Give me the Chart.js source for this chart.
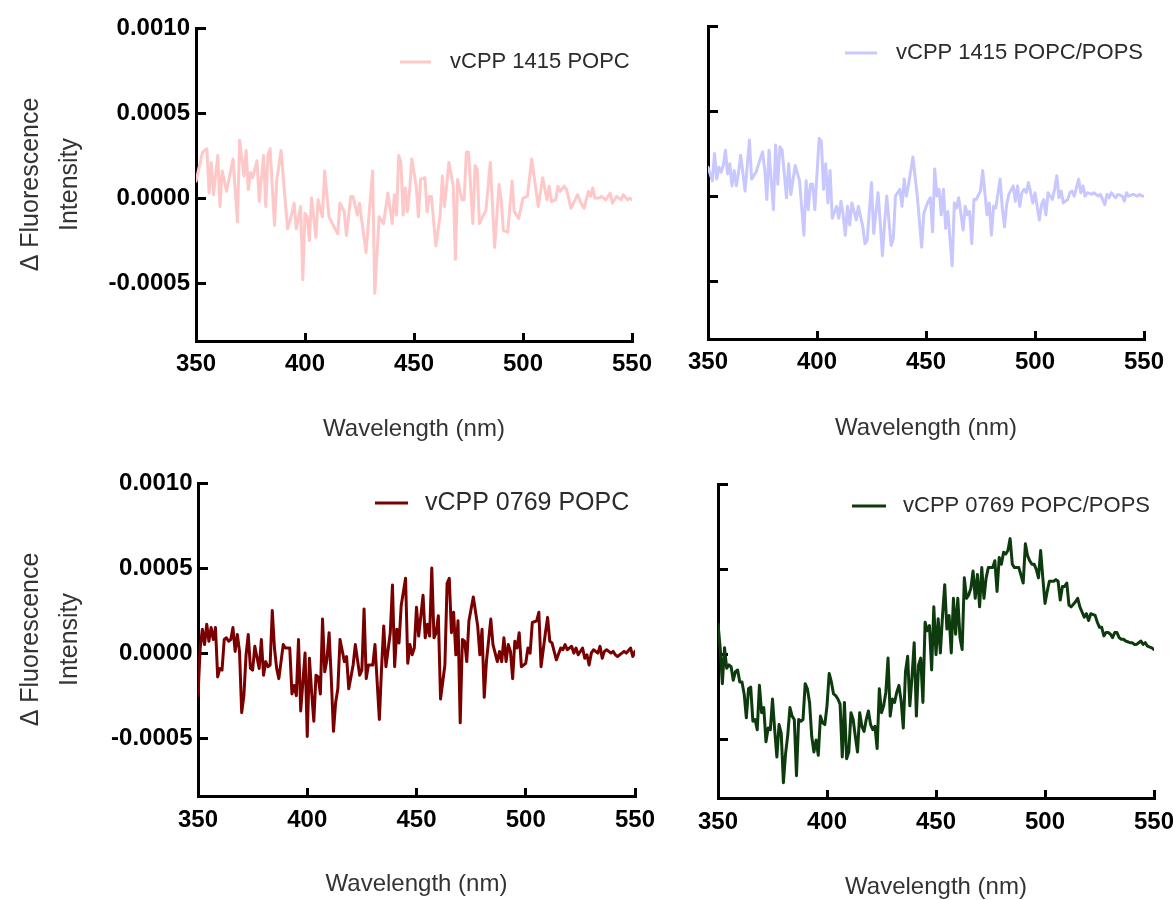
<!DOCTYPE html>
<html><head><meta charset="utf-8">
<script src="https://cdn.jsdelivr.net/npm/chart.js@4.4.0/dist/chart.umd.min.js"></script>
<style>
html,body{margin:0;padding:0;background:#fff;}
#wrap{position:relative;width:1173px;height:900px;overflow:hidden;background:#fff;}
canvas{position:absolute;left:0;top:0;}
</style></head>
<body><div id="wrap">
<canvas id="cA" width="1173" height="900"></canvas>
<canvas id="cB" width="1173" height="900"></canvas>
<canvas id="cC" width="1173" height="900"></canvas>
<canvas id="cD" width="1173" height="900"></canvas>
</div>
<script>
// ---------- data ----------
const X_TICKS = [350, 400, 450, 500, 550];
const Y_TICKS = [-0.0005, 0, 0.0005, 0.001];
const X_TITLE = 'Wavelength (nm)';
const Y_TITLE = ['\u0394 Fluorescence', 'Intensity'];
const LABEL_A = 'vCPP 1415 POPC';
const LABEL_B = 'vCPP 1415 POPC/POPS';
const LABEL_C = 'vCPP 0769 POPC';
const LABEL_D = 'vCPP 0769 POPC/POPS';

// [wavelength nm, delta fluorescence]
const seriesA = [[350,1.0e-4],[353,2.7e-4],[355,2.9e-4],[356,0.3e-4],[357,2.1e-4],[358,0.2e-4],[360,2.5e-4],[361,-0.5e-4],[362,1.6e-4],[364,0.4e-4],[367,2.3e-4],[369,-1.4e-4],[370,3.4e-4],[372,1.3e-4],[373,2.8e-4],[374,0.5e-4],[375,1.5e-4],[376,1.2e-4],[378,2.2e-4],[379,-0.2e-4],[381,2.5e-4],[382,-0.5e-4],[383,2.5e-4],[384,2.9e-4],[386,-1.6e-4],[387,1.0e-4],[389,2.8e-4],[392,-1.8e-4],[394,-0.9e-4],[395,-0.3e-4],[396,-1.8e-4],[398,-0.5e-4],[399,-4.8e-4],[400,-0.9e-4],[401,-1.1e-4],[402,-2.5e-4],[403,0],[405,-2.3e-4],[406,-0.1e-4],[408,-1.1e-4],[409,1.6e-4],[411,-1.1e-4],[415,-2.1e-4],[416,-0.3e-4],[418,-0.8e-4],[419,-2.2e-4],[421,0.1e-4],[422,0.1e-4],[424,-1.0e-4],[425,-0.3e-4],[428,-3.2e-4],[431,1.6e-4],[432,-5.6e-4],[434,-1.1e-4],[436,-1.5e-4],[438,0.3e-4],[440,-1.5e-4],[441,0.2e-4],[442,-1.0e-4],[443,2.5e-4],[444,2.1e-4],[445,-1.0e-4],[446,0.6e-4],[447,-0.8e-4],[448,0.5e-4],[449,2.3e-4],[451,0.7e-4],[452,-1.1e-4],[453,1.1e-4],[455,1.2e-4],[456,-0.8e-4],[457,0.1e-4],[458,0.1e-4],[460,-2.8e-4],[462,-1.0e-4],[463,1.3e-4],[464,-0.5e-4],[466,2.1e-4],[468,0.7e-4],[469,-3.6e-4],[470,1.1e-4],[472,-0.1e-4],[473,-0.1e-4],[474,2.7e-4],[475,2.7e-4],[477,-1.5e-4],[478,1.9e-4],[479,1.7e-4],[480,-1.5e-4],[483,-0.7e-4],[485,2.1e-4],[487,-2.9e-4],[489,0.8e-4],[490,-0.1e-4],[491,-1.9e-4],[493,-2.0e-4],[495,1.0e-4],[496,-0.8e-4],[498,-1.2e-4],[500,0],[502,0.1e-4],[504,2.3e-4],[507,-0.5e-4],[509,1.2e-4],[511,-0.1e-4],[512,0.7e-4],[513,-0.2e-4],[515,-0.1e-4],[516,0.7e-4],[517,0.4e-4],[519,0.7e-4],[520,0.5e-4],[522,-0.6e-4],[525,0.2e-4],[527,-0.4e-4],[528,-0.6e-4],[530,0.4e-4],[531,0.1e-4],[532,0.6e-4],[533,0],[535,0],[536,0.1e-4],[538,-0.1e-4],[540,0.3e-4],[541,-0.3e-4],[543,0.1e-4],[545,-0.1e-4],[546,0.2e-4],[548,-0.1e-4],[549,0],[550,-0.1e-4]];

const seriesB = [[350,1.7e-4],[352,0.9e-4],[353,2.5e-4],[354,1.0e-4],[355,1.7e-4],[356,1.4e-4],[357,1.8e-4],[358,2.7e-4],[359,1.3e-4],[360,1.9e-4],[361,0.6e-4],[362,1.5e-4],[363,0.6e-4],[364,1.4e-4],[365,2.4e-4],[367,0.3e-4],[369,3.3e-4],[370,1.0e-4],[372,1.4e-4],[375,2.6e-4],[376,1.6e-4],[377,-0.2e-4],[378,2.7e-4],[380,-0.8e-4],[381,3.0e-4],[382,0.7e-4],[383,2.9e-4],[384,2.7e-4],[386,-0.1e-4],[387,1.9e-4],[388,0.1e-4],[390,1.8e-4],[392,0.9e-4],[394,-2.3e-4],[395,0.9e-4],[396,-0.8e-4],[397,0.7e-4],[398,0.7e-4],[399,-0.8e-4],[401,3.4e-4],[402,3.2e-4],[403,0.4e-4],[404,1.9e-4],[405,-0.4e-4],[406,1.5e-4],[407,-1.3e-4],[409,-0.6e-4],[410,-1.3e-4],[411,-0.3e-4],[412,-1.1e-4],[413,-2.3e-4],[414,-0.6e-4],[415,-1.7e-4],[416,-0.4e-4],[418,-1.4e-4],[419,-0.6e-4],[421,-1.8e-4],[422,-2.8e-4],[423,-2.6e-4],[425,0.8e-4],[426,-2.2e-4],[428,0.2e-4],[429,-1.5e-4],[430,-3.5e-4],[431,-1.6e-4],[432,0],[434,-2.9e-4],[435,-2.5e-4],[436,0],[438,0.4e-4],[439,-0.6e-4],[440,1.0e-4],[441,0],[442,0.7e-4],[444,2.3e-4],[446,0],[448,-3.0e-4],[449,-1.0e-4],[451,-0.3e-4],[452,-0.1e-4],[453,-2.1e-4],[454,1.6e-4],[455,0],[456,0.4e-4],[457,-1.1e-4],[458,0.4e-4],[459,-1.9e-4],[460,-0.9e-4],[462,-4.1e-4],[463,-0.4e-4],[464,-0.7e-4],[465,-0.1e-4],[467,-2.0e-4],[468,-0.6e-4],[469,-1.1e-4],[470,-0.9e-4],[471,-2.8e-4],[472,-0.2e-4],[473,-0.2e-4],[475,0.3e-4],[476,1.5e-4],[478,-1.1e-4],[479,-0.4e-4],[480,-2.3e-4],[481,-0.6e-4],[482,-0.7e-4],[484,1.0e-4],[485,-0.7e-4],[486,-1.8e-4],[487,-0.5e-4],[488,0.1e-4],[490,0.6e-4],[491,-0.3e-4],[492,0.6e-4],[493,-0.6e-4],[494,0.2e-4],[495,0.4e-4],[496,0.2e-4],[497,0.8e-4],[499,-0.4e-4],[500,0.2e-4],[502,-1.4e-4],[503,-0.5e-4],[504,-0.2e-4],[505,-1.1e-4],[506,0.2e-4],[508,-0.2e-4],[509,0.4e-4],[510,1.2e-4],[511,-0.1e-4],[512,0.3e-4],[513,-0.4e-4],[515,-0.2e-4],[516,0.2e-4],[517,0.3e-4],[518,0],[520,1.0e-4],[521,0.2e-4],[522,0.6e-4],[523,0],[524,0.2e-4],[526,0.1e-4],[527,0.2e-4],[529,0],[530,0.1e-4],[532,-0.5e-4],[533,0.1e-4],[534,-0.1e-4],[535,0.2e-4],[537,-0.1e-4],[538,0.1e-4],[540,0],[541,-0.3e-4],[542,0.2e-4],[543,0],[545,0.1e-4],[547,0],[548,0.1e-4],[549,0],[550,0]];

const seriesC = [[350,-2.5e-4],[351,0.3e-4],[352,1.4e-4],[353,0.5e-4],[354,1.7e-4],[355,0.7e-4],[356,1.5e-4],[357,0.8e-4],[358,1.5e-4],[359,-1.4e-4],[360,-0.9e-4],[361,-1.0e-4],[362,0.8e-4],[363,0.9e-4],[364,0.7e-4],[365,0.8e-4],[366,1.5e-4],[367,0.1e-4],[368,1.1e-4],[369,0.1e-4],[370,-3.5e-4],[371,-2.5e-4],[372,-0.1e-4],[373,1.1e-4],[374,-0.9e-4],[375,-1.0e-4],[376,0.4e-4],[378,-0.9e-4],[379,0.8e-4],[380,-1.3e-4],[381,-0.5e-4],[382,-0.8e-4],[383,-0.7e-4],[384,2.5e-4],[385,0.3e-4],[386,-0.9e-4],[387,-1.5e-4],[389,0.5e-4],[390,0.3e-4],[392,0.3e-4],[393,-2.4e-4],[394,-1.9e-4],[395,-2.5e-4],[396,0.8e-4],[397,-3.4e-4],[398,-1.7e-4],[399,0],[400,-4.9e-4],[401,-0.3e-4],[402,-2.3e-4],[403,-4.0e-4],[404,-1.3e-4],[405,-1.4e-4],[406,-2.4e-4],[407,2.0e-4],[408,-1.1e-4],[409,-0.4e-4],[410,1.2e-4],[411,-1.5e-4],[412,-4.6e-4],[413,-2.9e-4],[414,-2.1e-4],[415,0.8e-4],[417,-0.5e-4],[418,-0.2e-4],[419,-2.1e-4],[421,-0.7e-4],[422,0.5e-4],[424,-1.3e-4],[425,-1.0e-4],[426,2.6e-4],[427,-1.5e-4],[428,-0.7e-4],[430,-0.7e-4],[431,0.5e-4],[433,-3.9e-4],[434,-0.9e-4],[435,1.6e-4],[436,-0.8e-4],[438,1.2e-4],[439,4.0e-4],[440,-0.8e-4],[441,1.4e-4],[442,0.6e-4],[443,2.8e-4],[445,4.4e-4],[446,-0.6e-4],[447,0.5e-4],[448,-0.1e-4],[449,0.3e-4],[450,2.7e-4],[451,1.0e-4],[453,3.4e-4],[454,0.9e-4],[455,1.7e-4],[456,1.0e-4],[457,5.0e-4],[458,0.9e-4],[459,1.2e-4],[460,2.2e-4],[461,-2.7e-4],[463,-0.7e-4],[464,4.1e-4],[465,4.4e-4],[466,1.2e-4],[467,2.4e-4],[468,-0.1e-4],[469,1.9e-4],[470,-4.1e-4],[471,0.8e-4],[472,0.7e-4],[473,-0.5e-4],[474,1.9e-4],[476,3.3e-4],[478,1.6e-4],[479,-0.1e-4],[480,1.4e-4],[481,-2.6e-4],[482,-0.5e-4],[484,2.0e-4],[485,0.5e-4],[487,-0.5e-4],[488,0.1e-4],[489,-0.5e-4],[490,0.9e-4],[491,-0.5e-4],[492,0.5e-4],[493,0.1e-4],[494,-1.5e-4],[495,0.7e-4],[496,0.3e-4],[497,1.2e-4],[498,-0.8e-4],[500,-0.6e-4],[501,0.3e-4],[502,0],[503,1.8e-4],[505,1.9e-4],[506,2.4e-4],[507,-0.8e-4],[509,1.2e-4],[510,2.1e-4],[511,0.7e-4],[512,0.6e-4],[514,-0.4e-4],[516,0.3e-4],[517,0.2e-4],[518,0.5e-4],[519,0.2e-4],[521,0.4e-4],[522,0],[523,0.3e-4],[524,-0.1e-4],[526,0.3e-4],[527,-0.3e-4],[528,-0.1e-4],[529,-0.7e-4],[530,0],[531,0.2e-4],[533,0],[534,0.4e-4],[535,-0.3e-4],[536,0.1e-4],[537,0.2e-4],[539,0],[540,0.1e-4],[541,-0.1e-4],[542,-0.2e-4],[544,0],[545,0.1e-4],[546,0],[548,0.3e-4],[549,-0.2e-4],[550,0.1e-4]];

const seriesD = [[350,1.8e-4],[351,0.4e-4],[352,-1.7e-4],[353,0.4e-4],[354,-0.8e-4],[355,-0.6e-4],[356,-0.7e-4],[357,-1.5e-4],[358,-1.0e-4],[359,-0.9e-4],[360,-1.6e-4],[361,-1.6e-4],[362,-2.3e-4],[363,-3.7e-4],[364,-2.0e-4],[365,-1.9e-4],[366,-3.9e-4],[367,-3.8e-4],[368,-4.4e-4],[369,-1.8e-4],[370,-3.4e-4],[371,-3.1e-4],[372,-5.1e-4],[373,-4.3e-4],[374,-4.4e-4],[375,-2.6e-4],[376,-4.4e-4],[377,-6.0e-4],[378,-4.1e-4],[379,-4.6e-4],[380,-7.5e-4],[381,-5.8e-4],[382,-4.7e-4],[383,-3.1e-4],[384,-3.6e-4],[385,-3.8e-4],[386,-7.1e-4],[387,-3.8e-4],[388,-3.9e-4],[389,-3.8e-4],[390,-1.7e-4],[391,-2.0e-4],[392,-2.8e-4],[393,-4.8e-4],[394,-5.7e-4],[395,-5.0e-4],[396,-5.9e-4],[397,-3.6e-4],[398,-4.0e-4],[399,-4.1e-4],[400,-3.0e-4],[401,-1.1e-4],[402,-1.6e-4],[403,-2.3e-4],[404,-2.4e-4],[405,-2.6e-4],[406,-2.9e-4],[407,-6.0e-4],[408,-2.8e-4],[409,-6.1e-4],[410,-5.7e-4],[411,-3.4e-4],[412,-3.8e-4],[413,-4.8e-4],[414,-5.7e-4],[415,-3.4e-4],[416,-4.2e-4],[417,-4.5e-4],[418,-3.8e-4],[419,-3.3e-4],[420,-4.1e-4],[421,-4.4e-4],[422,-4.2e-4],[423,-5.5e-4],[424,-2.0e-4],[425,-3.4e-4],[426,-3.0e-4],[427,-2.2e-4],[428,-0.2e-4],[429,-3.6e-4],[430,-2.6e-4],[431,-2.8e-4],[432,-2.2e-4],[433,-1.8e-4],[434,-2.7e-4],[435,-4.3e-4],[436,-1.0e-4],[437,-0.1e-4],[438,-3.0e-4],[439,-1.3e-4],[440,0.7e-4],[441,-3.6e-4],[442,-0.6e-4],[443,-0.2e-4],[444,-2.8e-4],[445,1.9e-4],[446,1.4e-4],[447,1.7e-4],[448,-0.9e-4],[449,2.8e-4],[450,0],[451,2.1e-4],[452,0.1e-4],[453,2.3e-4],[454,4.1e-4],[455,1.5e-4],[456,2.3e-4],[457,0.1e-4],[458,3.3e-4],[459,1.2e-4],[460,3.3e-4],[461,1.0e-4],[462,0.3e-4],[463,4.5e-4],[464,3.3e-4],[465,3.5e-4],[466,3.9e-4],[467,4.9e-4],[468,3.3e-4],[469,4.7e-4],[470,2.8e-4],[471,5.1e-4],[472,3.3e-4],[473,4.5e-4],[474,5.1e-4],[476,5.1e-4],[477,5.5e-4],[478,3.7e-4],[479,5.7e-4],[480,5.3e-4],[481,6.0e-4],[482,5.9e-4],[483,6.1e-4],[484,6.8e-4],[485,5.3e-4],[486,5.1e-4],[487,5.1e-4],[488,5.1e-4],[490,4.2e-4],[491,6.5e-4],[492,5.8e-4],[493,5.5e-4],[494,5.3e-4],[495,5.3e-4],[496,5.0e-4],[497,4.5e-4],[498,6.1e-4],[499,4.5e-4],[500,3.0e-4],[501,3.7e-4],[502,4.3e-4],[504,4.3e-4],[505,4.4e-4],[506,4.3e-4],[507,3.2e-4],[508,4.0e-4],[509,4.0e-4],[510,4.2e-4],[511,2.9e-4],[512,2.8e-4],[514,3.1e-4],[515,3.3e-4],[516,2.8e-4],[517,2.5e-4],[518,2.2e-4],[519,2.4e-4],[520,2.0e-4],[521,2.4e-4],[523,2.3e-4],[524,1.9e-4],[525,1.6e-4],[526,1.6e-4],[527,1.1e-4],[528,1.3e-4],[529,1.3e-4],[530,1.2e-4],[531,1.0e-4],[532,1.3e-4],[533,1.3e-4],[534,1.0e-4],[535,0.9e-4],[536,0.9e-4],[537,0.8e-4],[539,0.7e-4],[540,0.7e-4],[541,0.6e-4],[542,0.6e-4],[543,0.7e-4],[544,0.8e-4],[545,0.6e-4],[546,0.7e-4],[547,0.5e-4],[549,0.4e-4],[550,0.3e-4]];

// ---------- layout / style ----------
const FONT = "'Liberation Sans', Arial, Helvetica, sans-serif";
const Y_MIN = -0.00084, Y_MAX = 0.001, X_MIN = 350, X_MAX = 550;

const panels = [
  {id:'cA', series:seriesA, label:LABEL_A, color:'#ffc8c8', area:{left:196,right:632,top:28,bottom:341}, regL:0, regB:450, yLabels:true, yTickPad:16, xTickPad:17, xTitlePad:9,
   leg:{x1:400,x2:431,y:62,tx:450,size:22}},
  {id:'cB', series:seriesB, label:LABEL_B, color:'#c8c8ff', area:{left:708,right:1144,top:26,bottom:339}, regL:640, regB:450, yLabels:false, yTickPad:16, xTickPad:17, xTitlePad:10,
   leg:{x1:845,x2:877,y:53,tx:896,size:22}},
  {id:'cC', series:seriesC, label:LABEL_C, color:'#7a0000', area:{left:198,right:635,top:483,bottom:796}, regL:0, regB:900, yLabels:true, yTickPad:15.5, xTickPad:18, xTitlePad:4,
   leg:{x1:375,x2:408,y:503,tx:425,size:25}},
  {id:'cD', series:seriesD, label:LABEL_D, color:'#0d3b0d', area:{left:718,right:1154,top:484,bottom:798}, regL:640, regB:900, yLabels:false, yTickPad:16, xTickPad:18, xTitlePad:1,
   leg:{x1:852,x2:886,y:506,tx:903,size:22}}
];

const panelLegend = {
  id: 'panelLegend',
  afterDraw(chart, args, o) {
    const ctx = chart.ctx;
    const ds = chart.data.datasets[0];
    ctx.save();
    ctx.strokeStyle = ds.borderColor;
    ctx.lineWidth = 3;
    ctx.beginPath();
    ctx.moveTo(o.x1, o.y);
    ctx.lineTo(o.x2, o.y);
    ctx.stroke();
    ctx.fillStyle = '#2b2b2b';
    ctx.font = o.size + 'px ' + FONT;
    ctx.textBaseline = 'middle';
    ctx.textAlign = 'left';
    ctx.fillText(ds.label, o.tx, o.y);
    ctx.restore();
  }
};

panels.forEach(p => {
  const gridOpts = (len) => ({display:true, drawOnChartArea:false, drawTicks:true, tickLength:len, tickWidth:3, tickColor:'#000'});
  new Chart(document.getElementById(p.id), {
    type: 'line',
    data: { datasets: [{
      label: p.label,
      data: p.series.map(([x, y]) => ({x, y})),
      borderColor: p.color, backgroundColor: p.color,
      borderWidth: 3, pointRadius: 0, tension: 0, fill: false,
      borderJoinStyle: 'round', borderCapStyle: 'round'
    }]},
    plugins: [panelLegend],
    options: {
      responsive: false, animation: false, devicePixelRatio: 1,
      events: [],
      layout: { padding: { left: p.regL, top: p.area.top, right: 1173 - p.area.right, bottom: 900 - p.regB } },
      plugins: { legend: {display:false}, tooltip: {enabled:false}, panelLegend: p.leg },
      scales: {
        x: {
          type: 'linear', min: X_MIN, max: X_MAX,
          afterBuildTicks: s => { s.ticks = X_TICKS.map(v => ({value: v})); },
          afterFit: s => { s.height = p.regB - p.area.bottom; s.paddingLeft = 0; s.paddingRight = 0; },
          grid: gridOpts(-8),
          border: {display:true, color:'#000', width:3},
          ticks: {color:'#000', autoSkip:false, maxRotation:0, padding:p.xTickPad,
                  font:{family:FONT, size:24, weight:'bold', lineHeight:1.2}},
          title: {display:true, text:X_TITLE, color:'#333', font:{family:FONT, size:24, lineHeight:1.0}, padding:{top:0, bottom:p.xTitlePad}}
        },
        y: {
          type: 'linear', min: Y_MIN, max: Y_MAX,
          afterBuildTicks: s => { s.ticks = Y_TICKS.map(v => ({value: v})); },
          afterFit: s => { s.width = p.area.left - p.regL; s.paddingTop = 0; s.paddingBottom = 0; },
          grid: gridOpts(-10),
          border: {display:true, color:'#000', width:3},
          ticks: {display:p.yLabels, color:'#000', autoSkip:false, padding:p.yTickPad,
                  font:{family:FONT, size:24, weight:'bold', lineHeight:1.2},
                  callback: v => Number(v).toFixed(4)},
          title: {display:p.yLabels, text:Y_TITLE, color:'#333', font:{family:FONT, size:25, lineHeight:1.56}, padding:{top:12, bottom:0}}
        }
      }
    }
  });
});
</script>
</body></html>
